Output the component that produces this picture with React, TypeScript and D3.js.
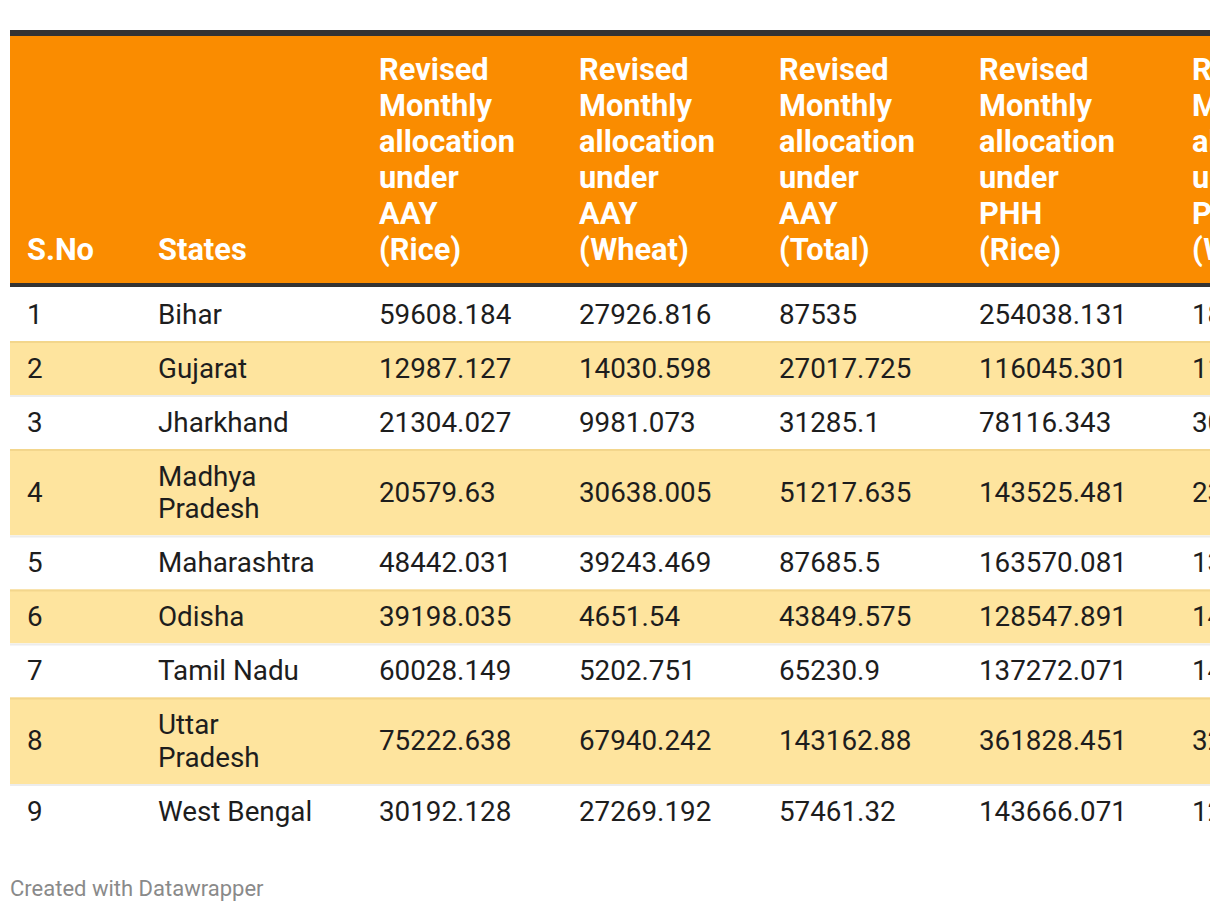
import React, { useMemo } from "react";
import * as d3 from "d3";

const sNo = ["1", "2", "3", "4", "5", "6", "7", "8", "9"];
const states = ["Bihar", "Gujarat", "Jharkhand", "Madhya Pradesh", "Maharashtra", "Odisha", "Tamil Nadu", "Uttar Pradesh", "West Bengal"];
const aayRice = ["59608.184", "12987.127", "21304.027", "20579.63", "48442.031", "39198.035", "60028.149", "75222.638", "30192.128"];
const aayWheat = ["27926.816", "14030.598", "9981.073", "30638.005", "39243.469", "4651.54", "5202.751", "67940.242", "27269.192"];
const aayTotal = ["87535", "27017.725", "31285.1", "51217.635", "87685.5", "43849.575", "65230.9", "143162.88", "57461.32"];
const phhRice = ["254038.131", "116045.301", "78116.343", "143525.481", "163570.081", "128547.891", "137272.071", "361828.451", "143666.071"];
const phhWheat = ["185000", "110000", "30000", "230000", "130000", "140000", "140000", "320000", "120000"];
const headers = [
  ["S.No"],
  ["States"],
  ["Revised", "Monthly", "allocation", "under", "AAY", "(Rice)"],
  ["Revised", "Monthly", "allocation", "under", "AAY", "(Wheat)"],
  ["Revised", "Monthly", "allocation", "under", "AAY", "(Total)"],
  ["Revised", "Monthly", "allocation", "under", "PHH", "(Rice)"],
  ["Revised", "Monthly", "allocation", "under", "PHH", "(Wheat)"],
];

const W = 1220;
const H = 912;
const FONT = "Roboto, 'Noto Sans', sans-serif";

export default function App() {
  const colWidths = [131, 221, 200, 200, 200, 213, 200];
  const left = 10;
  const right = 1210;
  const padX = 17;
  const colX = useMemo(() => {
    const cs = Array.from(d3.cumsum(colWidths));
    return colWidths.map((_, i) => left + (i === 0 ? 0 : cs[i - 1]));
  }, []);

  const bodyFont = 27.8;
  const lh = 32.5;
  const pad = 10.75;

  const stateLines = useMemo(() => {
    const canvas = document.createElement("canvas");
    const ctx = canvas.getContext("2d")!;
    ctx.font = `${bodyFont}px Roboto`;
    const maxW = 165;
    return states.map((s) => {
      const words = s.split(" ");
      const lines: string[] = [];
      let cur = "";
      words.forEach((w) => {
        const t = cur ? cur + " " + w : w;
        if (ctx.measureText(t).width > maxW && cur) {
          lines.push(cur);
          cur = w;
        } else cur = t;
      });
      lines.push(cur);
      return lines;
    });
  }, []);

  const rowH = stateLines.map((l) => pad * 2 + l.length * lh);
  const bodyTop = 287;
  const rowY = (() => {
    const cs = Array.from(d3.cumsum(rowH));
    return rowH.map((_, i) => bodyTop + (i === 0 ? 0 : cs[i - 1]));
  })();

  const cols = [sNo, null, aayRice, aayWheat, aayTotal, phhRice, phhWheat];

  return (
    <svg width={W} height={H} style={{ position: "absolute", left: 0, top: 0, display: "block" }} fontFamily={FONT}>
      <defs>
        <clipPath id="tbl">
          <rect x={left} y={0} width={right - left} height={H} />
        </clipPath>
      </defs>
      <rect x={0} y={0} width={W} height={H} fill="#fff" />
      <g clipPath="url(#tbl)">
        <rect x={left} y={30} width={right - left} height={6} fill="#333" />
        <rect x={left} y={36} width={right - left} height={247} fill="#fa8c00" />
        <rect x={left} y={283} width={right - left} height={4} fill="#333" />
        {headers.map((h, ci) =>
          h.map((line, li) => (
            <text
              key={`h${ci}-${li}`}
              x={colX[ci] + padX}
              y={260 - (h.length - 1 - li) * 36}
              fill="#fff"
              fontWeight={700}
              fontSize={30.8}
            >
              {line}
            </text>
          ))
        )}
        {rowH.map((h, ri) => {
          const y0 = rowY[ri];
          const alt = ri % 2 === 1;
          const cy = y0 + h / 2;
          return (
            <g key={`r${ri}`}>
              <rect x={left} y={y0} width={right - left} height={h} fill={alt ? "#fee49e" : "#fff"} />
              {ri > 0 && (
                <rect x={left} y={y0} width={right - left} height={2} fill={alt ? "#f3d68c" : "#ececec"} />
              )}
              {cols.map((col, ci) => {
                if (ci === 1) {
                  const lines = stateLines[ri];
                  return lines.map((ln, li) => (
                    <text
                      key={`s${ri}-${li}`}
                      x={colX[ci] + padX}
                      y={cy + 9.5 + (li - (lines.length - 1) / 2) * lh}
                      fill="#1d1d1d"
                      fontSize={bodyFont}
                    >
                      {ln}
                    </text>
                  ));
                }
                return (
                  <text key={`c${ri}-${ci}`} x={colX[ci] + padX} y={cy + 9.5} fill="#1d1d1d" fontSize={bodyFont}>
                    {col![ri]}
                  </text>
                );
              })}
            </g>
          );
        })}
      </g>
      <text x={10} y={896} fill="#8a8a8a" fontSize={22}>
        Created with Datawrapper
      </text>
    </svg>
  );
}
